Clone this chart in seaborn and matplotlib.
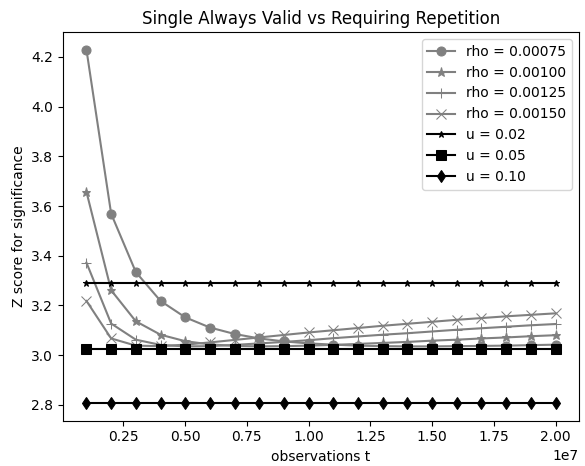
import matplotlib
matplotlib.use("Agg")
import matplotlib.pyplot as plt
import seaborn as sns
import numpy as np

# observations t (1e6 .. 2e7)
t_obs = [k * 1_000_000 for k in range(1, 21)]

# Z score curves for the always-valid (mixture) boundaries
rho_00075 = [4.229, 3.569, 3.334, 3.218, 3.152, 3.111, 3.085, 3.067, 3.055, 3.047,
             3.042, 3.038, 3.036, 3.035, 3.035, 3.036, 3.037, 3.038, 3.040, 3.042]
rho_00100 = [3.657, 3.261, 3.136, 3.082, 3.056, 3.043, 3.037, 3.035, 3.036, 3.038,
             3.041, 3.045, 3.049, 3.053, 3.058, 3.062, 3.067, 3.071, 3.076, 3.080]
rho_00125 = [3.372, 3.127, 3.062, 3.041, 3.035, 3.036, 3.041, 3.047, 3.053, 3.060,
             3.068, 3.075, 3.082, 3.088, 3.095, 3.102, 3.108, 3.114, 3.120, 3.125]
rho_00150 = [3.218, 3.067, 3.038, 3.036, 3.042, 3.051, 3.061, 3.071, 3.081, 3.091,
             3.100, 3.109, 3.118, 3.126, 3.134, 3.142, 3.149, 3.156, 3.162, 3.168]

rho_labels = ["rho = 0.00075", "rho = 0.00100", "rho = 0.00125", "rho = 0.00150"]
rho_markers = ["o", "*", "+", "x"]

# repetition thresholds (constant)
u_labels = ["u = 0.02", "u = 0.05", "u = 0.10"]
u_values = [3.291, 3.023, 2.807]
u_markers = ["*", "s", "d"]
u_sizes = [4.5, 6.5, 6.5]

fig = plt.figure(figsize=(5.85, 4.66), dpi=100)
ax = fig.add_axes([0.1077, 0.0972, 0.882, 0.834])

for vals, lab, mk in zip([rho_00075, rho_00100, rho_00125, rho_00150], rho_labels, rho_markers):
    sns.lineplot(x=t_obs, y=vals, ax=ax, color="grey", marker=mk, markersize=6.5,
                 markeredgecolor="grey", linewidth=1.5, label=lab)

for val, lab, mk, ms in zip(u_values, u_labels, u_markers, u_sizes):
    sns.lineplot(x=t_obs, y=[val] * len(t_obs), ax=ax, color="black", marker=mk,
                 markersize=ms, markeredgecolor="black", linewidth=1.5, label=lab)

ax.set_title("Single Always Valid vs Requiring Repetition")
ax.set_xlabel("observations t")
ax.set_ylabel("Z score for significance")
ax.legend(loc="upper right")

fig.savefig("out.png", dpi=100)
plt.close()
